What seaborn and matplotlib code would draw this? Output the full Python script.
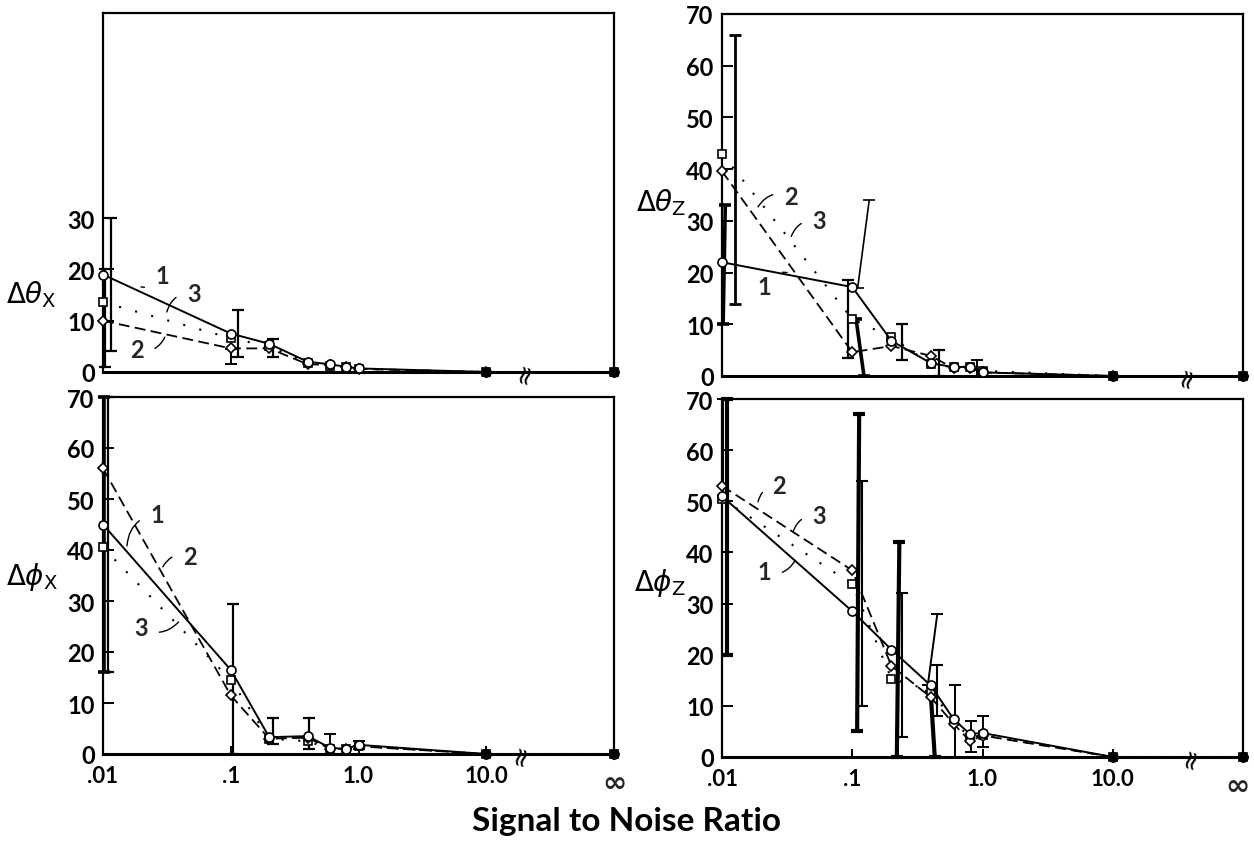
import numpy as np
import pandas as pd
import matplotlib
matplotlib.use("Agg")
import matplotlib.pyplot as plt
from matplotlib.ticker import NullLocator
import seaborn as sns

# ---------------- data ----------------
snr = [0.01, 0.1, 0.2, 0.4, 0.6, 0.8, 1.0, 10.0, np.inf]
snr_ticks = [0.01, 0.1, 1.0, 10.0, np.inf]
snr_tick_labels = [".01", ".1", "1.0", "10.0", "\u221e"]
series_names = ["1", "2", "3"]

# Delta theta_X
thx_1 = [19.0, 7.5, 5.5, 2.0, 1.5, 1.0, 0.7, 0.0, 0.0]
thx_2 = [10.0, 4.6, 4.6, 1.5, 1.4, 1.0, 0.6, 0.0, 0.0]
thx_3 = [13.6, 6.6, 5.0, 1.8, 1.2, 1.0, 0.6, 0.0, 0.0]
# Delta theta_Z
thz_1 = [22.0, 17.2, 6.8, 2.5, 1.7, 1.8, 0.7, 0.0, 0.0]
thz_2 = [39.6, 4.6, 5.8, 3.9, 1.5, 1.5, 0.7, 0.0, 0.0]
thz_3 = [43.0, 11.0, 7.5, 2.3, 1.7, 1.8, 1.0, 0.0, 0.0]
# Delta phi_X
phx_1 = [45.0, 16.5, 3.3, 3.5, 1.2, 1.0, 1.8, 0.0, 0.0]
phx_2 = [56.0, 11.5, 3.0, 3.2, 1.0, 1.0, 1.5, 0.0, 0.0]
phx_3 = [40.5, 14.5, 3.0, 2.5, 1.0, 1.0, 1.5, 0.0, 0.0]
# Delta phi_Z
phz_1 = [51.0, 28.5, 21.0, 14.0, 7.4, 4.5, 4.7, 0.0, 0.0]
phz_2 = [53.0, 36.5, 17.8, 11.7, 6.5, 3.1, 4.2, 0.0, 0.0]
phz_3 = [50.5, 33.8, 15.3, 13.0, 7.0, 3.8, 4.3, 0.0, 0.0]

# error ranges: (snr at low end, low value, snr at high end, high value)
thx_err_xlo = [0.0104, 0.0116, 0.100, 0.113, 0.215]
thx_err_lo = [1.0, 4.0, 1.5, 3.0, 3.0]
thx_err_xhi = [0.0104, 0.0116, 0.100, 0.113, 0.215]
thx_err_hi = [20.0, 30.0, 4.5, 12.0, 6.5]

thz_err_xlo = [0.0102, 0.0125, 0.093, 0.110, 0.123, 0.24, 0.46, 0.90]
thz_err_lo = [10.0, 14.0, 3.5, 17.0, 0.0, 3.0, 0.0, 0.0]
thz_err_xhi = [0.0106, 0.0125, 0.093, 0.135, 0.107, 0.24, 0.46, 0.90]
thz_err_hi = [33.0, 66.0, 18.5, 34.0, 11.0, 10.0, 5.0, 3.0]

phx_err_xlo = [0.0102, 0.0109, 0.105, 0.213, 0.41, 0.60, 1.0]
phx_err_lo = [16.0, 16.0, 0.0, 2.0, 1.0, 0.0, 1.0]
phx_err_xhi = [0.0102, 0.0109, 0.105, 0.213, 0.41, 0.60, 1.0]
phx_err_hi = [70.0, 70.0, 29.5, 7.0, 7.0, 4.0, 2.5]

phz_err_xlo = [0.0102, 0.0109, 0.109, 0.119, 0.220, 0.242, 0.38, 0.430, 0.45, 0.62, 0.82, 1.0]
phz_err_lo = [50.0, 20.0, 5.0, 10.0, 0.0, 4.0, 14.0, 0.0, 8.0, 0.0, 1.0, 2.0]
phz_err_xhi = [0.0102, 0.0109, 0.113, 0.119, 0.230, 0.242, 0.45, 0.400, 0.45, 0.62, 0.82, 1.0]
phz_err_hi = [70.0, 70.0, 67.0, 54.0, 42.0, 32.0, 28.0, 12.7, 18.0, 14.0, 7.0, 8.0]

# ---------------- styles / layout ----------------
INF_POS = 100.0
W, H = 1254, 845

def px_rect(l, r, t, b):
    return [l / W, 1 - b / H, (r - l) / W, (b - t) / H]

panels = [
    dict(key="thx", rect=px_rect(103, 614, 14, 373), ys=[thx_1, thx_2, thx_3],
         err=(thx_err_xlo, thx_err_lo, thx_err_xhi, thx_err_hi),
         err_w=[1.6, 1.6, 1.4, 1.6, 1.6],
         yticks=[0, 10, 20, 30], xlabels=False, brk=10 ** 1.3, inf_dx=0,
         label=r"$\Delta\theta_{\mathrm{X}}$", label_pos=(31, 295),
         notes=[("1", (0.0294, 18.9), (0.0198, 16.6), -0.4),
                ("3", (0.0513, 15.4), (0.0316, 11.7), 0.4),
                ("2", (0.0184, 4.3), (0.0305, 6.8), 0.4)]),
    dict(key="thz", rect=px_rect(722, 1243, 15, 377), ys=[thz_1, thz_2, thz_3],
         err=(thz_err_xlo, thz_err_lo, thz_err_xhi, thz_err_hi),
         err_w=[2.6, 2.0, 1.6, 1.2, 2.6, 1.6, 1.6, 1.4],
         yticks=list(range(0, 80, 10)), xlabels=False, brk=10 ** 1.57, inf_dx=0,
         label=r"$\Delta\theta_{\mathrm{Z}}$", label_pos=(661, 203),
         notes=[("2", (0.034, 34.8), (0.0189, 32.7), 0.4),
                ("3", (0.0557, 30.0), (0.034, 27.0), 0.4),
                ("1", (0.0211, 17.4), (0.0316, 20.0), -0.4)]),
    dict(key="phx", rect=px_rect(103, 614, 398, 755), ys=[phx_1, phx_2, phx_3],
         err=(phx_err_xlo, phx_err_lo, phx_err_xhi, phx_err_hi),
         err_w=[2.6, 1.6, 1.6, 1.6, 1.6, 1.4, 1.4],
         yticks=list(range(0, 80, 10)), xlabels=True, brk=10 ** 1.27, inf_dx=0,
         label=r"$\Delta\phi_{\mathrm{X}}$", label_pos=(32, 577),
         notes=[("1", (0.0264, 47.0), (0.0154, 40.8), 0.4),
                ("2", (0.048, 38.8), (0.0294, 36.7), 0.4),
                ("3", (0.0198, 24.9), (0.0391, 25.9), 0.4)]),
    dict(key="phz", rect=px_rect(722, 1243, 400, 758), ys=[phz_1, phz_2, phz_3],
         err=(phz_err_xlo, phz_err_lo, phz_err_xhi, phz_err_hi),
         err_w=[1.4, 3.0, 3.0, 1.5, 3.0, 1.5, 1.4, 3.0, 1.5, 1.4, 1.4, 1.4],
         yticks=list(range(0, 80, 10)), xlabels=True, brk=10 ** 1.6, inf_dx=-4,
         label=r"$\Delta\phi_{\mathrm{Z}}$", label_pos=(660, 583),
         notes=[("2", (0.0275, 53.0), (0.0189, 49.9), 0.4),
                ("3", (0.0557, 47.2), (0.0351, 44.0), 0.4),
                ("1", (0.021, 36.2), (0.0364, 38.4), 0.4)]),
]

series_style = {
    "1": dict(linestyle="-", marker="o", markersize=6.5, lw=1.4),
    "2": dict(linestyle=(0, (6, 3)), marker="D", markersize=5, lw=1.3),
    "3": dict(linestyle=(0, (1, 7)), marker="s", markersize=5.5, lw=1.5),
}

def pos(v):
    return INF_POS if np.isinf(v) else v

sns.set_style("white")
plt.rcParams["font.family"] = ["Lato", "DejaVu Sans"]
plt.rcParams["mathtext.fontset"] = "dejavusans"

fig = plt.figure(figsize=(W / 100, H / 100), dpi=100)
xpos = [pos(v) for v in snr]

for p in panels:
    ax = fig.add_axes(p["rect"])
    ax.set_xscale("log")
    ax.set_xlim(0.01, INF_POS)
    ax.set_ylim(0, 70)
    # series lines
    frames = []
    for name, vals in zip(series_names, p["ys"]):
        frames.append(pd.DataFrame({"snr": xpos, "val": vals, "series": name}))
    df = pd.concat(frames, ignore_index=True)
    for name in ["3", "2", "1"]:
        st = series_style[name]
        sub = df[df["series"] == name]
        sns.lineplot(data=sub, x="snr", y="val", ax=ax, color="black",
                     linestyle=st["linestyle"], linewidth=st["lw"],
                     marker=st["marker"], markersize=st["markersize"],
                     markerfacecolor="white", markeredgecolor="black",
                     markeredgewidth=1.2, clip_on=False, zorder=3,
                     estimator=None, sort=False, legend=False)
    # filled dots at 10.0 and infinity (overlapping markers)
    ax.plot([pos(snr[-2]), pos(snr[-1])], [p["ys"][0][-2], p["ys"][0][-1]],
            "o", color="black", ms=5, clip_on=False, zorder=4)
    # error ranges
    xlo, lo, xhi, hi = p["err"]
    for a, b, c, d, w in zip(xlo, lo, xhi, hi, p["err_w"]):
        ax.plot([a, c], [b, d], color="black", lw=w, solid_capstyle="butt",
                clip_on=False, zorder=2)
        ax.plot([a, c], [b, d], linestyle="none", marker="_", ms=9, mew=w,
                color="black", clip_on=False, zorder=2)
    # ticks
    ax.set_xticks([pos(v) for v in snr_ticks])
    ax.xaxis.set_minor_locator(NullLocator())
    if p["xlabels"]:
        labels = [s if s != "\u221e" else "" for s in snr_tick_labels]
        ax.set_xticklabels(labels)
        for t in ax.get_xticklabels():
            t.set_fontsize(16)
            t.set_fontweight("bold")
        # infinity label drawn separately so it can sit inside the figure edge
        ax.annotate("\u221e", xy=(pos(snr_ticks[-1]), 0),
                    xycoords=("data", "axes fraction"),
                    xytext=(p["inf_dx"], -21), textcoords="offset points",
                    ha="center", va="center", fontsize=21, fontweight="bold",
                    family=["DejaVu Sans"], annotation_clip=False)
    else:
        ax.set_xticklabels([])
    ax.set_yticks(p["yticks"])
    ax.set_yticklabels([str(v) for v in p["yticks"]])
    for t in ax.get_yticklabels():
        t.set_fontsize(17)
        t.set_fontweight("bold")
    ax.tick_params(axis="y", direction="in", length=8, width=1.4, pad=6,
                   left=True, colors="black")
    ax.tick_params(axis="x", direction="in", length=6 if p["xlabels"] else 0,
                   width=1.4, pad=8, bottom=True, colors="black")
    ax.set_xlabel("")
    ax.set_ylabel("")
    for sp in ax.spines.values():
        sp.set_visible(True)
        sp.set_color("black")
        sp.set_linewidth(1.6)
    ax.spines["bottom"].set_linewidth(2.2)
    # axis break mark
    ax.text(p["brk"], 0, "\u2248", rotation=75, ha="center", va="center",
            fontsize=19, family=["DejaVu Sans"], color="black", zorder=5,
            clip_on=False)
    # curve labels with leader lines
    for txt, tpos, target, rad in p["notes"]:
        ax.annotate(txt, xy=target, xytext=tpos, fontsize=17,
                    fontweight="bold", ha="center", va="center",
                    arrowprops=dict(arrowstyle="-", lw=1.0, color="black",
                                    connectionstyle=f"arc3,rad={rad}",
                                    shrinkA=6, shrinkB=0))
    lx, ly = p["label_pos"]
    fig.text(lx / W, 1 - ly / H, p["label"], fontsize=20, ha="center",
             va="center", color="black")

fig.text(0.5, 1 - 822 / H, "Signal to Noise Ratio", ha="center", va="center",
         fontsize=24, fontweight="bold", color="black")

fig.savefig("out.png", dpi=100)
